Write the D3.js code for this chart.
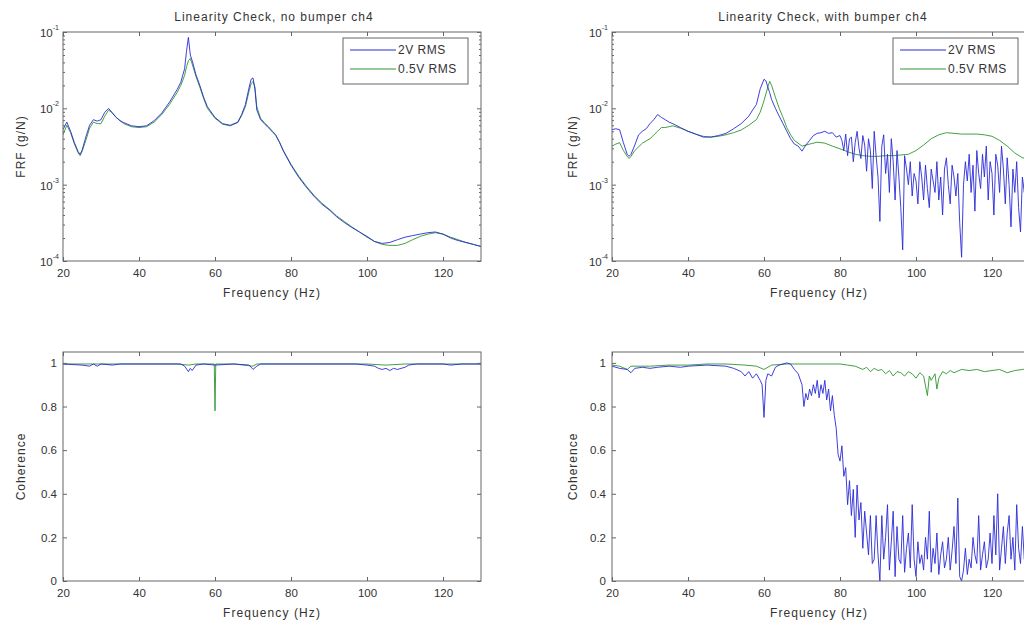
<!DOCTYPE html>
<html>
<head>
<meta charset="utf-8">
<script src="https://cdn.jsdelivr.net/npm/d3@7/dist/d3.min.js"></script>
<style>
  html, body { margin: 0; padding: 0; background: #fff; }
  svg { display: block; font-family: "Liberation Sans", Arial, sans-serif; }
</style>
</head>
<body>
<svg id="chart" width="1024" height="622"></svg>
<script>
// ---------- DATA ----------
const seriesNames = ["2V RMS", "0.5V RMS"];
const titles = ["Linearity Check, no bumper ch4", "Linearity Check, with bumper ch4"];
const xTicks = [20, 40, 60, 80, 100, 120];
const frfTicks = [1e-4, 1e-3, 1e-2, 1e-1];
const frfTickExponents = ["-4", "-3", "-2", "-1"];
const cohTicks = [0, 0.2, 0.4, 0.6, 0.8, 1];
const cohTickLabels = ["0", "0.2", "0.4", "0.6", "0.8", "1"];

// FRF, no bumper, 2V RMS  [Hz, g/N]
const frfNo2V = [[20,5.25e-3],[21,6.6e-3],[22,5.0e-3],[23,3.55e-3],[24,2.7e-3],[24.5,2.5e-3],[25,2.8e-3],[26,4.2e-3],[27,6.0e-3],[28,7.1e-3],[29,6.8e-3],[30,7.1e-3],[31,8.9e-3],[32,1.0e-2],[33,8.7e-3],[34,7.6e-3],[35,6.9e-3],[36,6.5e-3],[38,5.9e-3],[40,5.75e-3],[42,5.9e-3],[44,6.9e-3],[46,8.7e-3],[48,1.2e-2],[50,1.75e-2],[51,2.2e-2],[52,3.3e-2],[52.5,5.6e-2],[53,8.5e-2],[53.5,5.0e-2],[54,4.2e-2],[55,2.75e-2],[56,2.0e-2],[57,1.4e-2],[58,1.05e-2],[60,7.6e-3],[62,6.3e-3],[64,6.0e-3],[66,6.6e-3],[67,8.3e-3],[68,1.12e-2],[69,1.9e-2],[69.5,2.4e-2],[70,2.5e-2],[70.5,1.8e-2],[71,9.5e-3],[72,7.1e-3],[73,6.3e-3],[74,5.6e-3],[75,5.0e-3],[76,4.4e-3],[77,3.55e-3],[78,2.75e-3],[80,1.8e-3],[82,1.26e-3],[84,9.3e-4],[86,7.1e-4],[88,5.6e-4],[90,4.7e-4],[92,3.8e-4],[94,3.2e-4],[96,2.75e-4],[98,2.4e-4],[100,2.1e-4],[102,1.8e-4],[104,1.7e-4],[106,1.75e-4],[108,1.9e-4],[110,2.05e-4],[112,2.15e-4],[114,2.25e-4],[116,2.35e-4],[118,2.4e-4],[120,2.25e-4],[122,2.0e-4],[124,1.85e-4],[126,1.75e-4],[128,1.65e-4],[130,1.55e-4]];

// FRF, no bumper, 0.5V RMS
const frfNo05V = [[20,4.5e-3],[21,6.0e-3],[22,4.8e-3],[23,3.4e-3],[24,2.6e-3],[24.5,2.4e-3],[25,2.7e-3],[26,3.8e-3],[27,5.5e-3],[28,6.6e-3],[29,6.3e-3],[30,6.3e-3],[31,7.9e-3],[32,9.5e-3],[33,8.7e-3],[34,7.6e-3],[35,6.9e-3],[36,6.3e-3],[38,5.75e-3],[40,5.6e-3],[42,5.75e-3],[44,6.6e-3],[46,8.3e-3],[48,1.12e-2],[50,1.6e-2],[51,2.0e-2],[52,2.7e-2],[52.5,3.5e-2],[53,4.2e-2],[53.5,4.5e-2],[54,3.8e-2],[55,2.6e-2],[56,1.9e-2],[57,1.35e-2],[58,1.0e-2],[60,7.4e-3],[62,6.2e-3],[64,5.9e-3],[66,6.5e-3],[67,8.0e-3],[68,1.05e-2],[69,1.7e-2],[69.5,2.1e-2],[70,2.25e-2],[70.5,1.9e-2],[71,1.05e-2],[72,7.4e-3],[73,6.5e-3],[74,5.8e-3],[75,5.1e-3],[76,4.5e-3],[77,3.6e-3],[78,2.8e-3],[80,1.85e-3],[82,1.3e-3],[84,9.6e-4],[86,7.3e-4],[88,5.8e-4],[90,4.8e-4],[92,3.9e-4],[94,3.3e-4],[96,2.8e-4],[98,2.4e-4],[100,2.05e-4],[102,1.8e-4],[104,1.65e-4],[106,1.6e-4],[108,1.6e-4],[110,1.7e-4],[112,1.9e-4],[114,2.1e-4],[116,2.25e-4],[118,2.35e-4],[120,2.25e-4],[122,2.05e-4],[124,1.9e-4],[126,1.75e-4],[128,1.65e-4],[130,1.55e-4]];

// FRF, with bumper, 2V RMS
const frfWith2V = [[20,5.25e-3],[21,5.4e-3],[22,5.25e-3],[23,3.55e-3],[24,2.5e-3],[24.5,2.35e-3],[25,2.5e-3],[26,3.3e-3],[27,4.5e-3],[28,5.0e-3],[29,5.4e-3],[30,6.3e-3],[31,7.1e-3],[32,8.3e-3],[33,7.6e-3],[34,7.1e-3],[35,6.6e-3],[36,6.3e-3],[38,5.6e-3],[40,5.0e-3],[42,4.6e-3],[44,4.2e-3],[46,4.2e-3],[48,4.4e-3],[50,4.7e-3],[52,5.4e-3],[54,6.3e-3],[56,7.9e-3],[57,9.5e-3],[58,1.12e-2],[59,1.8e-2],[60,2.4e-2],[60.5,2.3e-2],[61,1.9e-2],[61.5,1.6e-2],[62,1.3e-2],[63,1.0e-2],[64,7.9e-3],[65,6.3e-3],[66,5.0e-3],[67,4.0e-3],[68,3.4e-3],[69,3.2e-3],[70,2.75e-3],[71,3.3e-3],[72,3.8e-3],[73,4.4e-3],[74,4.7e-3],[75,4.8e-3],[76,5.0e-3],[77,4.7e-3],[78,4.8e-3],[79,4.2e-3],[80,4.4e-3],
[80.5,3.8e-3],[81,2.8e-3],[81.5,4.6e-3],[82,2.4e-3],[82.5,4.0e-3],[83,4.2e-3],[83.5,2.0e-3],[84,3.55e-3],[84.5,5.0e-3],[85,3.0e-3],[85.5,2.2e-3],[86,4.4e-3],[86.5,3.3e-3],[87,1.5e-3],[87.5,4.0e-3],[88,2.8e-3],[88.5,8.9e-4],[89,5.0e-3],[89.5,2.4e-3],[90,1.26e-3],[90.5,3.3e-4],[91,3.2e-3],[91.5,4.5e-3],[92,1.4e-3],[92.5,2.5e-3],[93,7.9e-4],[93.5,4.0e-3],[94,2.0e-3],[94.5,6.3e-4],[95,2.8e-3],[95.5,1.26e-3],[96,5.0e-4],[96.5,1.4e-4],[97,2.4e-3],[97.5,1.6e-3],[98,1.0e-3],[98.5,2.0e-3],[99,7.1e-4],[99.5,1.4e-3],[100,1.12e-3],[100.5,5.6e-4],[101,2.0e-3],[101.5,1.26e-3],[102,6.3e-4],[102.5,1.8e-3],[103,8.9e-4],[103.5,5.0e-4],[104,1.6e-3],[104.5,1.12e-3],[105,7.9e-4],[105.5,2.0e-3],[106,6.3e-4],[106.5,1.26e-3],[107,4.0e-4],[107.5,1.6e-3],[108,2.25e-3],[108.5,1.0e-3],[109,5.6e-4],[109.5,1.8e-3],[110,1.26e-3],[110.5,7.1e-4],[111,1.4e-3],[111.5,3.2e-4],[112,1.12e-4],[112.5,1.0e-3],[113,2.0e-3],[113.5,1.12e-3],[114,2.5e-3],[114.5,7.9e-4],[115,1.8e-3],[115.5,4.5e-4],[116,2.8e-3],[116.5,1.4e-3],[117,8.9e-4],[117.5,2.5e-3],[118,1.26e-3],[118.5,3.2e-3],[119,6.3e-4],[119.5,2.0e-3],[120,1.4e-3],[120.5,4.0e-4],[121,2.5e-3],[121.5,1.8e-3],[122,7.9e-4],[122.5,3.2e-3],[123,1.6e-3],[123.5,5.6e-4],[124,2.25e-3],[124.5,1.0e-3],[125,2.8e-4],[125.5,1.6e-3],[126,7.9e-4],[126.5,2.0e-3],[127,5.0e-4],[127.5,2.4e-4],[128,1.26e-3],[128.5,7.9e-4],[129,1.8e-3],[129.5,6.3e-4],[130,1.0e-3]];

// FRF, with bumper, 0.5V RMS
const frfWith05V = [[20,3.2e-3],[21,3.4e-3],[22,3.55e-3],[23,2.8e-3],[24,2.35e-3],[24.5,2.2e-3],[25,2.35e-3],[26,2.8e-3],[28,3.5e-3],[30,4.0e-3],[32,5.0e-3],[33,5.6e-3],[34,5.6e-3],[36,5.9e-3],[38,5.5e-3],[40,5.0e-3],[42,4.6e-3],[44,4.3e-3],[46,4.2e-3],[48,4.3e-3],[50,4.5e-3],[52,4.8e-3],[54,5.2e-3],[56,6.0e-3],[58,7.1e-3],[59,8.9e-3],[60,1.26e-2],[61,1.9e-2],[61.5,2.25e-2],[62,2.0e-2],[63,1.4e-2],[64,1.0e-2],[65,7.6e-3],[66,5.6e-3],[67,4.5e-3],[68,3.8e-3],[70,3.2e-3],[72,3.4e-3],[74,3.6e-3],[76,3.5e-3],[78,3.2e-3],[80,2.95e-3],[82,2.7e-3],[84,2.5e-3],[86,2.4e-3],[88,2.35e-3],[90,2.35e-3],[92,2.4e-3],[94,2.4e-3],[96,2.45e-3],[98,2.5e-3],[100,2.8e-3],[102,3.3e-3],[104,4.0e-3],[106,4.5e-3],[108,4.8e-3],[110,4.7e-3],[112,4.6e-3],[114,4.6e-3],[116,4.6e-3],[118,4.5e-3],[120,4.3e-3],[122,3.8e-3],[124,3.2e-3],[126,2.6e-3],[128,2.25e-3],[130,2.2e-3]];

// Coherence, no bumper
const cohNo2V = [[20,0.995],[25,0.99],[27,0.985],[28,0.995],[29,0.985],[30,0.995],[33,0.99],[35,0.995],[45,0.995],[51,0.995],[52,0.985],[53,0.96],[53.5,0.975],[54,0.965],[55,0.99],[57,0.995],[60,0.99],[65,0.995],[69,0.99],[70,0.97],[71,0.985],[72,0.995],[80,0.995],[90,0.995],[97,0.995],[100,0.99],[102,0.985],[103,0.975],[104,0.97],[105,0.975],[106,0.965],[107,0.975],[108,0.97],[109,0.975],[110,0.98],[111,0.99],[113,0.995],[120,0.995],[122,0.99],[125,0.995],[130,0.995]];
const cohNo05V = [[20,0.995],[30,0.995],[40,0.995],[50,0.995],[53,0.99],[55,0.995],[59.8,0.995],[60,0.78],[60.2,0.995],[65,0.995],[70,0.985],[71,0.995],[80,0.995],[90,0.995],[100,0.995],[105,0.99],[110,0.995],[120,0.995],[130,0.995]];

// Coherence, with bumper
const cohWith2V = [[20,0.985],[22,0.975],[24,0.97],[25,0.955],[26,0.975],[28,0.98],[30,0.975],[32,0.98],[35,0.985],[38,0.98],[40,0.985],[45,0.99],[50,0.985],[52,0.975],[54,0.96],[55,0.94],[56,0.96],[57,0.93],[58,0.95],[59,0.92],[59.5,0.9],[60,0.75],[60.5,0.92],[61,0.95],[62,0.94],[63,0.98],[64,0.99],[66,1.0],[67,0.995],[68,0.97],[69,0.95],[70,0.9],[70.5,0.8],[71,0.86],[71.5,0.83],[72,0.88],[72.5,0.85],[73,0.9],[73.5,0.86],[74,0.92],[74.5,0.84],[75,0.9],[75.5,0.86],[76,0.92],[76.5,0.83],[77,0.88],[77.5,0.78],[78,0.85],[78.5,0.76],[79,0.7],[79.5,0.58],[80,0.55],[80.5,0.62],[81,0.48],[81.5,0.52],[82,0.35],[82.5,0.46],[83,0.3],[83.5,0.42],[84,0.2],[84.5,0.44],[85,0.28],[85.5,0.36],[86,0.15],[86.5,0.32],[87,0.22],[87.5,0.12],[88,0.3],[88.5,0.08],[89,0.1],[89.5,0.3],[90,0.12],[90.5,0.0],[91,0.3],[91.5,0.1],[92,0.2],[92.5,0.35],[93,0.05],[93.5,0.18],[94,0.32],[94.5,0.02],[95,0.25],[95.5,0.1],[96,0.08],[96.5,0.3],[97,0.04],[97.5,0.15],[98,0.22],[98.5,0.06],[99,0.35],[99.5,0.1],[100,0.02],[100.5,0.18],[101,0.08],[101.5,0.12],[102,0.05],[102.5,0.2],[103,0.1],[103.5,0.32],[104,0.04],[104.5,0.15],[105,0.08],[105.5,0.22],[106,0.03],[106.5,0.12],[107,0.18],[107.5,0.06],[108,0.1],[108.5,0.2],[109,0.05],[109.5,0.14],[110,0.25],[110.5,0.08],[111,0.38],[111.5,0.02],[112,0.0],[112.5,0.05],[113,0.15],[113.5,0.03],[114,0.1],[114.5,0.06],[115,0.2],[115.5,0.12],[116,0.08],[116.5,0.3],[117,0.05],[117.5,0.12],[118,0.18],[118.5,0.06],[119,0.1],[119.5,0.22],[120,0.08],[120.5,0.3],[121,0.12],[121.5,0.4],[122,0.05],[122.5,0.15],[123,0.25],[123.5,0.08],[124,0.22],[124.5,0.3],[125,0.1],[125.5,0.2],[126,0.05],[126.5,0.35],[127,0.15],[127.5,0.08],[128,0.25],[128.5,0.1],[129,0.18],[129.5,0.06],[130,0.2]];
const cohWith05V = [[20,0.99],[22,0.985],[24,0.97],[25,0.985],[30,0.985],[35,0.99],[40,0.99],[45,0.995],[50,0.995],[55,0.99],[58,0.985],[60,0.97],[62,0.99],[66,0.995],[70,0.995],[80,0.995],[82,0.99],[84,0.985],[86,0.97],[87,0.98],[88,0.96],[89,0.975],[90,0.965],[91,0.97],[92,0.95],[93,0.965],[94,0.94],[95,0.96],[96,0.955],[97,0.94],[98,0.96],[99,0.95],[100,0.93],[101,0.955],[102,0.94],[103,0.85],[103.5,0.94],[104,0.92],[105,0.95],[105.5,0.88],[106,0.93],[107,0.96],[108,0.95],[109,0.965],[110,0.955],[112,0.97],[114,0.965],[116,0.97],[118,0.96],[120,0.965],[122,0.97],[124,0.955],[126,0.965],[128,0.97],[130,0.975]];

// ---------- DRAWING ----------
const svg = d3.select("#chart");
const colors = ["#2a2ad8", "#2f952f"];
const axisColor = "#666";
const textColor = "#333";
const labelFont = 12;

const cols = [{x0: 63, x1: 481}, {x0: 612, x1: 1030}];
const rows = [{y0: 32, y1: 261}, {y0: 352, y1: 581}];

const panels = [
  {col: 0, row: 0, type: "frf", data: [frfNo2V, frfNo05V], title: titles[0], legend: true},
  {col: 1, row: 0, type: "frf", data: [frfWith2V, frfWith05V], title: titles[1], legend: true},
  {col: 0, row: 1, type: "coh", data: [cohNo2V, cohNo05V]},
  {col: 1, row: 1, type: "coh", data: [cohWith2V, cohWith05V]}
];

panels.forEach(p => {
  const c = cols[p.col], r = rows[p.row];
  const x = d3.scaleLinear().domain([20, 130]).range([c.x0, c.x1]);
  const y = p.type === "frf"
    ? d3.scaleLog().domain([1e-4, 1e-1]).range([r.y1, r.y0])
    : d3.scaleLinear().domain([0, 1.05]).range([r.y1, r.y0]);
  const g = svg.append("g");
  const clipId = "clip" + p.col + p.row;
  g.append("clipPath").attr("id", clipId).append("rect")
    .attr("x", c.x0).attr("y", r.y0).attr("width", c.x1 - c.x0).attr("height", r.y1 - r.y0);

  const line = d3.line().x(d => x(d[0])).y(d => y(d[1]));
  const lg = g.append("g").attr("clip-path", `url(#${clipId})`);
  [1, 0].forEach(i => {
    lg.append("path").datum(p.data[i]).attr("d", line)
      .attr("fill", "none").attr("stroke", colors[i]).attr("stroke-width", 0.9)
      .attr("stroke-linejoin", "round");
  });

  g.append("rect").attr("x", c.x0).attr("y", r.y0).attr("width", c.x1 - c.x0).attr("height", r.y1 - r.y0)
    .attr("fill", "none").attr("stroke", axisColor).attr("stroke-width", 1);

  const ax = d3.axisBottom(x).tickValues(xTicks).tickSize(-4).tickPadding(8).tickFormat(d3.format("d"));
  const axG = g.append("g").attr("transform", `translate(0,${r.y1})`).call(ax);
  const axT = g.append("g").attr("transform", `translate(0,${r.y0})`)
    .call(d3.axisTop(x).tickValues(xTicks).tickSize(-4).tickFormat(""));
  [axG, axT].forEach(a => {
    a.select(".domain").remove();
    a.selectAll("line").attr("stroke", axisColor);
  });
  axG.selectAll("text").attr("fill", textColor).attr("font-size", 11.5)
    .attr("font-family", "Liberation Sans, Arial, sans-serif");

  if (p.type === "frf") {
    const minor = [];
    for (let e = -4; e < -1; e++) for (let m = 2; m <= 9; m++) minor.push(m * Math.pow(10, e));
    const ayL = g.append("g").attr("transform", `translate(${c.x0},0)`)
      .call(d3.axisLeft(y).tickValues(frfTicks).tickSize(-4).tickFormat(""));
    const ayR = g.append("g").attr("transform", `translate(${c.x1},0)`)
      .call(d3.axisRight(y).tickValues(frfTicks).tickSize(-4).tickFormat(""));
    const amL = g.append("g").attr("transform", `translate(${c.x0},0)`)
      .call(d3.axisLeft(y).tickValues(minor).tickSize(-2).tickFormat(""));
    const amR = g.append("g").attr("transform", `translate(${c.x1},0)`)
      .call(d3.axisRight(y).tickValues(minor).tickSize(-2).tickFormat(""));
    [ayL, ayR, amL, amR].forEach(a => {
      a.select(".domain").remove();
      a.selectAll("line").attr("stroke", axisColor);
    });
    frfTicks.forEach((t, i) => {
      const tx = g.append("text").attr("x", c.x0 - 4).attr("y", y(t) + 5)
        .attr("text-anchor", "end").attr("fill", textColor).attr("font-size", 11.5);
      tx.append("tspan").text("10");
      tx.append("tspan").attr("dy", -7).attr("font-size", 7).text(frfTickExponents[i]);
    });
  } else {
    const ayL = g.append("g").attr("transform", `translate(${c.x0},0)`)
      .call(d3.axisLeft(y).tickValues(cohTicks).tickSize(-4).tickPadding(6)
        .tickFormat((d, i) => cohTickLabels[i]));
    const ayR = g.append("g").attr("transform", `translate(${c.x1},0)`)
      .call(d3.axisRight(y).tickValues(cohTicks).tickSize(-4).tickFormat(""));
    [ayL, ayR].forEach(a => {
      a.select(".domain").remove();
      a.selectAll("line").attr("stroke", axisColor);
    });
    ayL.selectAll("text").attr("fill", textColor).attr("font-size", 11.5)
      .attr("font-family", "Liberation Sans, Arial, sans-serif");
  }

  g.append("text").attr("x", (c.x0 + c.x1) / 2 - (p.col === 1 ? 2 : 0)).attr("y", r.y1 + 36)
    .attr("text-anchor", "middle").attr("fill", textColor).attr("font-size", labelFont)
    .attr("letter-spacing", 1.1).text("Frequency (Hz)");
  const ylx = p.col === 0 ? 21 : 573;
  g.append("text").attr("transform", `translate(${ylx},${(r.y0 + r.y1) / 2}) rotate(-90)`)
    .attr("text-anchor", "middle").attr("dominant-baseline", "central")
    .attr("fill", textColor).attr("font-size", labelFont).attr("letter-spacing", 1)
    .text(p.type === "frf" ? "FRF (g/N)" : "Coherence");

  if (p.title) {
    g.append("text").attr("x", p.col === 0 ? 274 : 823).attr("y", 21)
      .attr("text-anchor", "middle").attr("fill", textColor).attr("font-size", labelFont)
      .attr("letter-spacing", 1).text(p.title);
  }

  if (p.legend) {
    const lx = p.col === 0 ? 343 : 893, ly = 38, lw = 125, lh = 46;
    const leg = g.append("g");
    leg.append("rect").attr("x", lx).attr("y", ly).attr("width", lw).attr("height", lh)
      .attr("fill", "#fff").attr("stroke", axisColor).attr("stroke-width", 1);
    seriesNames.forEach((n, i) => {
      const yy = ly + 12 + i * 19;
      leg.append("line").attr("x1", lx + 7).attr("x2", lx + 53).attr("y1", yy).attr("y2", yy)
        .attr("stroke", colors[i]).attr("stroke-width", 1);
      leg.append("text").attr("x", lx + 55).attr("y", yy + 4).attr("fill", textColor)
        .attr("font-size", labelFont).attr("letter-spacing", 0.5).text(n);
    });
  }
});
</script>
</body>
</html>
